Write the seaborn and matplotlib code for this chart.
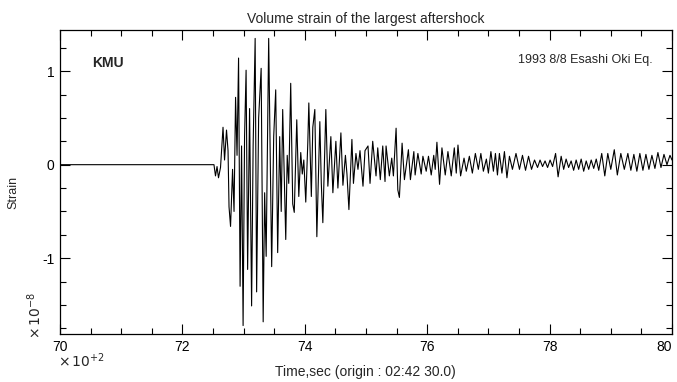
import matplotlib
matplotlib.use("Agg")
import matplotlib.pyplot as plt
from matplotlib.ticker import MultipleLocator, FixedLocator
import seaborn as sns
import pandas as pd

# ---- data (time in units of 10^2 s, strain in units of 10^-8) ----
pre_time = [70.0, 72.30, 72.516]
pre_strain = [0.0, 0.0, 0.0]

burst_time = [
    72.541, 72.566, 72.590, 72.623, 72.664, 72.689, 72.721, 72.746, 72.762, 72.787,
    72.820, 72.844, 72.869, 72.893, 72.918, 72.943, 72.967, 72.992, 73.016, 73.041,
    73.066, 73.098, 73.131, 73.156, 73.189, 73.213, 73.246, 73.287, 73.320, 73.344,
    73.369, 73.410, 73.459, 73.492, 73.525, 73.557, 73.590, 73.615, 73.639, 73.689,
    73.713, 73.738, 73.770, 73.803, 73.828, 73.869, 73.902, 73.934, 73.959, 73.984,
    74.016, 74.049, 74.066, 74.107, 74.131, 74.164, 74.197, 74.246, 74.270, 74.295,
    74.344, 74.377, 74.426, 74.459, 74.508, 74.541, 74.590, 74.623, 74.664, 74.689,
    74.721, 74.770, 74.795, 74.836, 74.869, 74.902, 74.951, 74.984, 75.033, 75.066,
]
burst_strain = [
    -0.12, -0.02, -0.14, -0.03, 0.40, 0.05, 0.37, 0.15, -0.45, -0.66,
    -0.05, -0.50, 0.72, 0.10, 1.14, -1.30, 0.20, -1.72, 0.30, 1.01,
    -1.12, 0.60, -1.51, 0.20, 1.35, -1.36, 0.50, 1.03, -1.68, -0.30,
    -0.98, 1.35, -1.09, 0.30, 0.80, -0.94, 0.30, -0.50, 0.59, -0.80,
    0.10, -0.20, 0.87, -0.42, -0.51, 0.48, -0.34, 0.13, -0.10, 0.05,
    -0.40, 0.23, 0.66, -0.34, 0.40, 0.59, -0.77, 0.46, -0.20, -0.62,
    0.59, -0.23, 0.30, -0.30, 0.25, -0.25, 0.34, -0.22, 0.10, -0.10,
    -0.48, 0.27, -0.20, 0.12, -0.05, 0.15, -0.23, 0.15, 0.20, -0.20,
]

coda_time = [
    75.110, 75.164, 75.192, 75.234, 75.274, 75.311, 75.328, 75.382, 75.421, 75.448,
    75.492, 75.520, 75.546, 75.590, 75.628, 75.693, 75.726, 75.782, 75.803, 75.848,
    75.902, 75.930, 75.984, 76.021, 76.066, 76.107, 76.131, 76.159, 76.202, 76.241,
    76.295, 76.339, 76.393, 76.443, 76.475, 76.503, 76.546, 76.602, 76.639, 76.689,
    76.738, 76.787, 76.836, 76.877, 76.918, 76.967, 77.000, 77.041, 77.082, 77.115,
    77.148, 77.180, 77.221, 77.262, 77.303, 77.344, 77.393, 77.451, 77.508, 77.557,
    77.607, 77.656, 77.705, 77.754, 77.803, 77.844, 77.885, 77.926, 77.967, 78.008,
    78.049, 78.098, 78.139, 78.189, 78.230, 78.270, 78.311, 78.352, 78.393, 78.434,
    78.475, 78.516, 78.557, 78.598, 78.639, 78.680, 78.721, 78.762, 78.803, 78.852,
    78.902, 78.951, 79.000, 79.057, 79.107, 79.164, 79.221, 79.279, 79.328, 79.377,
    79.426, 79.475, 79.525, 79.574, 79.623, 79.672, 79.721, 79.770, 79.820, 79.869,
    79.918, 79.967, 80.000,
]
coda_strain = [
    0.25, -0.12, 0.18, -0.16, 0.20, -0.18, 0.20, -0.12, 0.07, -0.12,
    0.39, -0.27, -0.35, 0.23, -0.16, 0.16, -0.16, 0.14, -0.11, 0.12,
    -0.10, 0.09, -0.07, 0.09, -0.11, 0.10, -0.05, 0.24, -0.21, 0.18,
    -0.11, 0.14, -0.12, 0.18, -0.09, 0.21, -0.12, 0.07, -0.07, 0.09,
    -0.09, 0.12, -0.05, 0.12, -0.07, 0.06, -0.09, 0.14, -0.07, 0.12,
    -0.11, 0.12, -0.09, 0.14, -0.14, 0.09, -0.05, 0.12, -0.05, 0.10,
    -0.06, 0.09, -0.05, 0.05, -0.03, 0.05, -0.02, 0.04, -0.03, 0.05,
    -0.02, 0.12, -0.13, 0.09, -0.05, 0.06, -0.03, 0.04, -0.06, 0.05,
    -0.05, 0.06, -0.07, 0.04, -0.05, 0.05, -0.04, 0.06, -0.06, 0.12,
    -0.12, 0.12, -0.05, 0.16, -0.11, 0.12, -0.05, 0.12, -0.06, 0.11,
    -0.07, 0.12, -0.06, 0.11, -0.05, 0.10, -0.04, 0.13, -0.03, 0.11,
    0.00, 0.10, 0.05,
]

x_major = [70, 72, 74, 76, 78, 80]
y_major = [-1, 0, 1]

title_text = "Volume strain of the largest aftershock"
station = "KMU"
event = "1993 8/8 Esashi Oki Eq."
xlabel_text = "Time,sec (origin : 02:42 30.0)"
ylabel_text = "Strain"

df = pd.DataFrame({
    "time": pre_time + burst_time + coda_time,
    "strain": pre_strain + burst_strain + coda_strain,
})

sns.set_theme(style="ticks")
plt.rcParams["font.family"] = ["Liberation Sans Narrow", "Liberation Sans", "DejaVu Sans"]

fig = plt.figure(figsize=(6.77, 3.82), dpi=100)
ax = fig.add_axes([0.0886, 0.1257, 0.9040, 0.7958])

sns.lineplot(data=df, x="time", y="strain", sort=False, estimator=None,
             color="black", linewidth=0.8, ax=ax)

ax.set_xlim(70, 80)
ax.set_ylim(-1.81, 1.44)
ax.xaxis.set_major_locator(FixedLocator(x_major))
ax.xaxis.set_minor_locator(MultipleLocator(0.5))
ax.yaxis.set_major_locator(FixedLocator(y_major))
ax.yaxis.set_minor_locator(MultipleLocator(0.25))
ax.set_xticklabels([str(v) for v in x_major])
ax.set_yticklabels(["-1", "0", "1"])
ax.tick_params(which="both", direction="in", top=True, right=True,
               colors="black", labelsize=10, width=0.8)
ax.tick_params(which="major", length=7, pad=4)
ax.tick_params(which="minor", length=4)
xt = ax.get_xticklabels()
xt[-1].set_horizontalalignment("right")
xt[-1].set_x(80)
for s in ax.spines.values():
    s.set_linewidth(0.9)
    s.set_color("black")

ax.set_xlabel("")
ax.set_ylabel("")
ax.set_title(title_text, fontsize=10, pad=5)

ax.text(0.052, 0.89, station, transform=ax.transAxes, fontsize=10,
        fontweight="bold", ha="left", va="center")
ax.text(0.969, 0.90, event, transform=ax.transAxes, fontsize=9,
        ha="right", va="center")

fig.text(365 / 677, 1 - 372 / 382, xlabel_text, fontsize=10, ha="center", va="center")
fig.text(13 / 677, 1 - 192 / 382, ylabel_text, fontsize=9, rotation=90,
         ha="center", va="center")
fig.text(35 / 677, 1 - 315 / 382, r"$\times\,10^{-8}$", fontsize=10, rotation=90,
         ha="center", va="center")
fig.text(82 / 677, 1 - 361 / 382, r"$\times\,10^{+2}$", fontsize=10,
         ha="center", va="center")

fig.savefig("out.png", dpi=100)
